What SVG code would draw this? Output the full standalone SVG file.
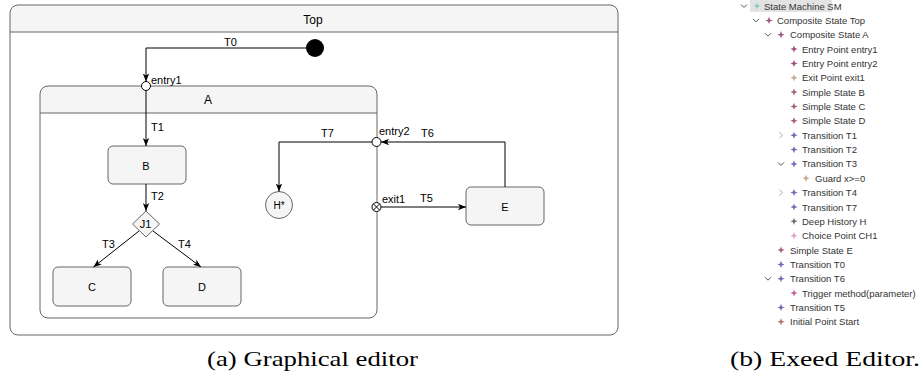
<svg xmlns="http://www.w3.org/2000/svg" width="922" height="381" viewBox="0 0 922 381">
<style>
.box{fill:#f5f5f5;stroke:#666;stroke-width:1}
.cont{fill:none;stroke:#666;stroke-width:1}
.hdr{fill:#f5f5f5;stroke:none}
.sep{stroke:#666;stroke-width:1}
.lbl{font-family:"Liberation Sans",Arial,sans-serif;font-size:11px;fill:#000}
.ttl{font-family:"Liberation Sans",Arial,sans-serif;font-size:12px;fill:#000;text-anchor:middle}
.mid{text-anchor:middle}
.edge{fill:none;stroke:#000;stroke-width:1;marker-end:url(#arr)}
.tr{font-family:"Liberation Sans",Arial,sans-serif;font-size:9.5px;fill:#333}
.chd{fill:none;stroke:#555;stroke-width:1}
.chr{fill:none;stroke:#aaa;stroke-width:1}
.cap{font-family:"Liberation Serif","Times New Roman",serif;font-size:22px;fill:#000}
</style>
<defs>
<marker id="arr" viewBox="0 0 10 8" markerWidth="8" markerHeight="7" refX="10" refY="4" orient="auto" markerUnits="userSpaceOnUse">
<path d="M10,4 L0,0 L2.5,4 L0,8 Z" fill="#000"/>
</marker>
<path id="ic" d="M0,-3.6 L1,-1 L3.6,0 L1,1 L0,3.6 L-1,1 L-3.6,0 L-1,-1 Z"/>
</defs>
<rect width="922" height="381" fill="#fff"/>

<g id="top">
<rect x="10" y="5" width="608" height="330" rx="8" fill="#fff"/>
<path class="hdr" d="M10,32 V13 Q10,5 18,5 H610 Q618,5 618,13 V32 Z"/>
<line class="sep" x1="10" y1="32" x2="618" y2="32"/>
<rect class="cont" x="10" y="5" width="608" height="330" rx="8"/>
<text class="ttl" x="313" y="24">Top</text>
</g>

<g id="A">
<path class="hdr" d="M40,113 V94 Q40,86 48,86 H369 Q377,86 377,94 V113 Z"/>
<line class="sep" x1="40" y1="113" x2="377" y2="113"/>
<rect class="cont" x="40" y="86" width="337" height="232" rx="8"/>
<text class="ttl" x="208" y="104">A</text>
</g>

<g id="initial">
<circle cx="315" cy="48" r="9" fill="#000"/>
</g>

<g id="entry1">
<circle cx="146" cy="86" r="4.5" fill="#fff" stroke="#000"/>
<text class="lbl" x="151" y="84">entry1</text>
</g>

<g id="B">
<rect class="box" x="108" y="146" width="78" height="38" rx="5"/>
<text class="lbl mid" x="146" y="170">B</text>
</g>

<g id="J1">
<path class="box" d="M146,211 L159.5,224 L146,237 L132.5,224 Z"/>
<text class="lbl mid" x="145.5" y="228">J1</text>
</g>

<g id="C">
<rect class="box" x="53" y="267" width="78" height="39" rx="5"/>
<text class="lbl mid" x="92" y="291">C</text>
</g>

<g id="D">
<rect class="box" x="163" y="267" width="78" height="39" rx="5"/>
<text class="lbl mid" x="202" y="291">D</text>
</g>

<g id="H">
<circle cx="279" cy="205" r="13.5" fill="#f5f5f5" stroke="#666"/>
<text class="lbl mid" x="279" y="209" style="font-size:10px">H*</text>
</g>

<g id="entry2">
<circle cx="376.5" cy="142" r="4.5" fill="#fff" stroke="#000"/>
<text class="lbl" x="379" y="135">entry2</text>
</g>

<g id="exit1">
<circle cx="376.5" cy="207" r="4.5" fill="#fff" stroke="#000"/>
<path d="M373.3,203.8 L379.7,210.2 M379.7,203.8 L373.3,210.2" stroke="#000" stroke-width="1"/>
<text class="lbl" x="382" y="203">exit1</text>
</g>

<g id="E">
<rect class="box" x="466" y="187" width="78" height="38" rx="5"/>
<text class="lbl mid" x="505" y="211">E</text>
</g>

<g id="connectors">
<path class="edge" d="M306,48 H146 V81.5"/>
<text class="lbl" x="224" y="46">T0</text>
<path class="edge" d="M146,90.5 V146"/>
<text class="lbl" x="151" y="131">T1</text>
<path class="edge" d="M146,184 V211"/>
<text class="lbl" x="151" y="200">T2</text>
<path class="edge" d="M139,231 L93.5,267"/>
<text class="lbl" x="102" y="248">T3</text>
<path class="edge" d="M153,231 L201,267"/>
<text class="lbl" x="178" y="248">T4</text>
<path class="edge" d="M372,142 H279 V191.5"/>
<text class="lbl" x="321" y="137">T7</text>
<path class="edge" d="M505,187 V142 H381"/>
<text class="lbl" x="421" y="137">T6</text>
<path class="edge" d="M381,207 H466"/>
<text class="lbl" x="420" y="202">T5</text>
</g>

<g id="tree">
<rect x="750" y="0" width="82" height="12" fill="#e3e3e3"/>
<path class="chd" d="M741,4.5 L744,7.5 L747,4.5"/>
<use href="#ic" x="757" y="6" fill="#8cc9c6"/>
<text class="tr" x="764" y="9.5">State Machine SM</text>

<path class="chd" d="M753,18.9 L756,21.9 L759,18.9"/>
<use href="#ic" x="769" y="20.4" fill="#a05585"/>
<text class="tr" x="777" y="23.9">Composite State Top</text>

<path class="chd" d="M765,33.2 L768,36.2 L771,33.2"/>
<use href="#ic" x="781" y="34.7" fill="#a05585"/>
<text class="tr" x="790" y="38.2">Composite State A</text>

<use href="#ic" x="794" y="49.1" fill="#a04d80"/>
<text class="tr" x="802" y="52.6">Entry Point entry1</text>
<use href="#ic" x="794" y="63.4" fill="#a04d80"/>
<text class="tr" x="802" y="66.9">Entry Point entry2</text>
<use href="#ic" x="794" y="77.8" fill="#c4aa90"/>
<text class="tr" x="802" y="81.3">Exit Point exit1</text>
<use href="#ic" x="794" y="92.1" fill="#a56070"/>
<text class="tr" x="802" y="95.6">Simple State B</text>
<use href="#ic" x="794" y="106.4" fill="#a56070"/>
<text class="tr" x="802" y="109.9">Simple State C</text>
<use href="#ic" x="794" y="120.8" fill="#a56070"/>
<text class="tr" x="802" y="124.3">Simple State D</text>

<path class="chr" d="M779.5,132.2 L782.5,135.2 L779.5,138.2"/>
<use href="#ic" x="794" y="135.2" fill="#6d6db5"/>
<text class="tr" x="802" y="138.7">Transition T1</text>
<use href="#ic" x="794" y="149.6" fill="#6d6db5"/>
<text class="tr" x="802" y="153.1">Transition T2</text>
<path class="chd" d="M778,162.4 L781,165.4 L784,162.4"/>
<use href="#ic" x="794" y="163.9" fill="#6d6db5"/>
<text class="tr" x="802" y="167.4">Transition T3</text>
<use href="#ic" x="806" y="178.3" fill="#c4aa90"/>
<text class="tr" x="815" y="181.8">Guard x&gt;=0</text>
<path class="chr" d="M779.5,189.6 L782.5,192.6 L779.5,195.6"/>
<use href="#ic" x="794" y="192.6" fill="#6d6db5"/>
<text class="tr" x="802" y="196.1">Transition T4</text>
<use href="#ic" x="794" y="207" fill="#6d6db5"/>
<text class="tr" x="802" y="210.5">Transition T7</text>
<use href="#ic" x="794" y="221.3" fill="#6e6e6e"/>
<text class="tr" x="802" y="224.8">Deep History H</text>
<use href="#ic" x="794" y="235.7" fill="#d9a3cc"/>
<text class="tr" x="802" y="239.2">Choice Point CH1</text>

<use href="#ic" x="781" y="250" fill="#a56070"/>
<text class="tr" x="790" y="253.5">Simple State E</text>
<use href="#ic" x="781" y="264.4" fill="#6d6db5"/>
<text class="tr" x="790" y="267.9">Transition T0</text>
<path class="chd" d="M765,277.2 L768,280.2 L771,277.2"/>
<use href="#ic" x="781" y="278.7" fill="#6d6db5"/>
<text class="tr" x="790" y="282.2">Transition T6</text>
<use href="#ic" x="794" y="293.1" fill="#c4609a"/>
<text class="tr" x="802" y="296.6">Trigger method(parameter)</text>
<use href="#ic" x="781" y="307.4" fill="#6d6db5"/>
<text class="tr" x="790" y="310.9">Transition T5</text>
<use href="#ic" x="781" y="321.8" fill="#b07070"/>
<text class="tr" x="790" y="325.3">Initial Point Start</text>
</g>

<text class="cap" x="207" y="366" textLength="211" lengthAdjust="spacingAndGlyphs">(a) Graphical editor</text>
<text class="cap" x="730" y="366" textLength="190" lengthAdjust="spacingAndGlyphs">(b) Exeed Editor.</text>
</svg>
